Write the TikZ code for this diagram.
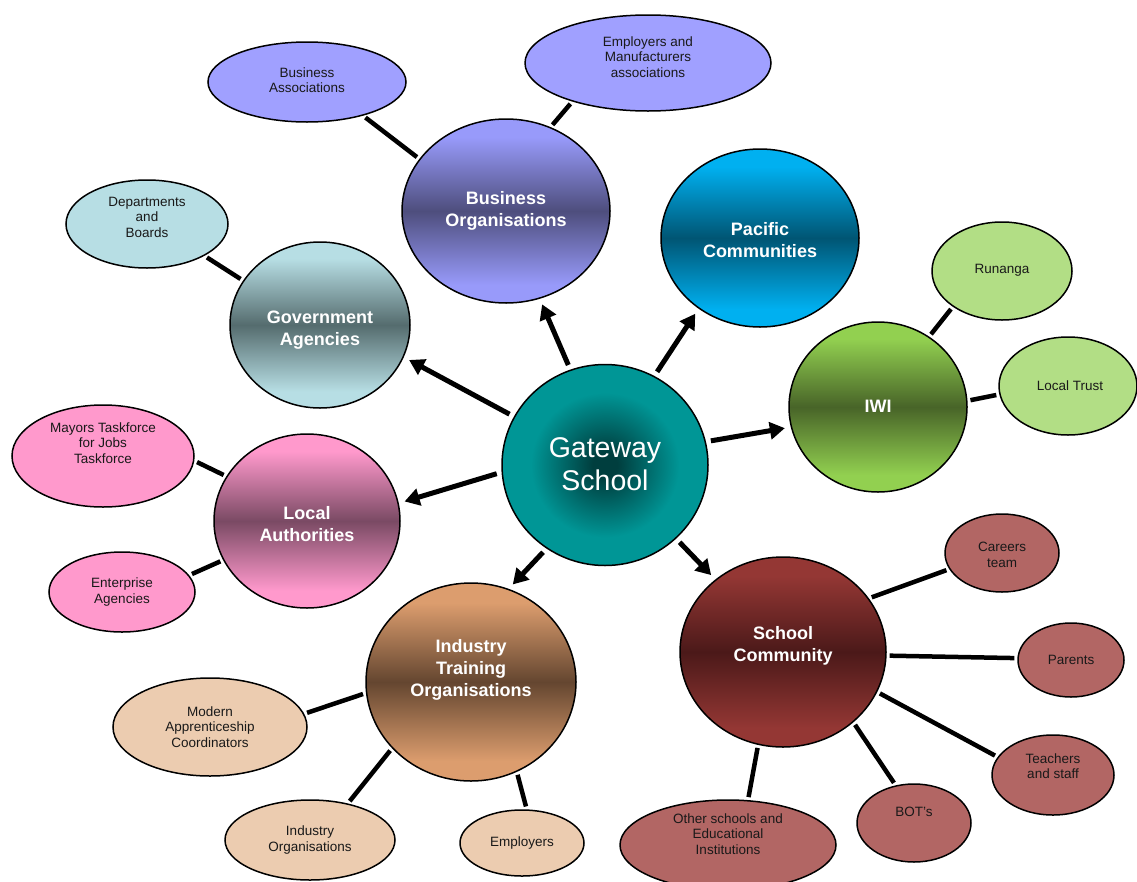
\documentclass[tikz,border=0pt]{standalone}
\usepackage{fontspec}
\setmainfont{Liberation Sans}
\usetikzlibrary{arrows.meta,shapes.geometric}

% palette
\definecolor{boL}{RGB}{152,154,250}\definecolor{boD}{RGB}{78,78,125}
\definecolor{pcL}{RGB}{0,176,240}\definecolor{pcD}{RGB}{0,85,115}
\definecolor{gaL}{RGB}{183,222,228}\definecolor{gaD}{RGB}{85,108,110}
\definecolor{iwL}{RGB}{146,208,80}\definecolor{iwD}{RGB}{72,100,40}
\definecolor{laL}{RGB}{255,153,204}\definecolor{laD}{RGB}{122,74,100}
\definecolor{itL}{RGB}{220,157,110}\definecolor{itD}{RGB}{100,70,48}
\definecolor{scL}{RGB}{148,55,52}\definecolor{scD}{RGB}{75,25,25}
\definecolor{gwL}{RGB}{0,150,150}\definecolor{gwD}{RGB}{0,62,62}
\definecolor{baFill}{RGB}{160,160,255}
\definecolor{dbFill}{RGB}{183,222,228}
\definecolor{rnFill}{RGB}{178,222,133}
\definecolor{mtFill}{RGB}{255,153,204}
\definecolor{maFill}{RGB}{236,204,176}
\definecolor{ctFill}{RGB}{178,102,100}
\definecolor{subText}{RGB}{25,25,25}

% light at top and bottom, dark band through the middle
\newcommand\bandshading[3]{%
  \pgfdeclareverticalshading{#1}{100bp}{color(0bp)=(#2); color(25bp)=(#2);
    color(30bp)=(#2); color(50bp)=(#3); color(70bp)=(#2);
    color(75bp)=(#2); color(100bp)=(#2)}}
\bandshading{boShade}{boL}{boD}
\bandshading{pcShade}{pcL}{pcD}
\bandshading{gaShade}{gaL}{gaD}
\bandshading{iwShade}{iwL}{iwD}
\bandshading{laShade}{laL}{laD}
\bandshading{itShade}{itL}{itD}
\bandshading{scShade}{scL}{scD}
\pgfdeclareradialshading{gwShade}{\pgfpoint{0bp}{0bp}}{color(0bp)=(gwD);
  color(3bp)=(gwD); color(18bp)=(gwL); color(25bp)=(gwL); color(50bp)=(gwL)}

\tikzset{
  hub/.style={ellipse, draw=black, line width=1.5pt, inner sep=0pt, shade, shading=#1},
  sub/.style={ellipse, draw=black, line width=1.5pt, inner sep=0pt, fill=#1},
  sz/.style n args={2}{minimum width=#1pt, minimum height=#2pt},
  hubtxt/.style={text=white, font=\bfseries\fontsize{18}{22}\selectfont, align=center},
  gwtxt/.style={text=white, font=\fontsize{28.5}{33}\selectfont, align=center},
  subtxt/.style={text=subText, font=\fontsize{13.5}{15.5}\selectfont, align=center},
  link/.style={line width=4.5pt, shorten <=3pt, shorten >=3pt},
  arrowlink/.style={line width=5pt, shorten <=5pt, shorten >=6pt,
    -{Triangle[length=15pt,width=17pt]}},
}

\begin{document}
\begin{tikzpicture}[x=1pt,y=-1pt]
\useasboundingbox (0,0) rectangle (1137,881);

% hub circles
\node[hub=gwShade, sz={206}{201}] (gw) at (605,465) {};
\node[hub=boShade, sz={208}{184}] (bo) at (506,211) {};
\node[hub=pcShade, sz={198}{178}] (pc) at (760,238) {};
\node[hub=gaShade, sz={180}{166}] (ga) at (320,325) {};
\node[hub=iwShade, sz={178}{170}] (iw) at (878,407) {};
\node[hub=laShade, sz={186}{174}] (la) at (307,521) {};
\node[hub=itShade, sz={210}{198}] (it) at (471,682) {};
\node[hub=scShade, sz={206}{190}] (sc) at (783,652) {};

\node[gwtxt] (gw-t) at ([yshift=1pt]gw.center) {Gateway\\School};
\node[hubtxt] (bo-t) at (bo.center) {Business\\Organisations};
\node[hubtxt] (pc-t) at ([yshift=-2pt]pc.center) {Pacific\\Communities};
\node[hubtxt] (ga-t) at ([yshift=-5pt]ga.center) {Government\\Agencies};
\node[hubtxt] (iw-t) at ([yshift=1pt]iw.center) {IWI};
\node[hubtxt] (la-t) at ([yshift=-3pt]la.center) {Local\\Authorities};
\node[hubtxt] (it-t) at ([yshift=12pt]it.center) {Industry\\Training\\Organisations};
\node[hubtxt] (sc-t) at ([yshift=6pt]sc.center) {School\\Community};

% outer ellipses
\node[sub=baFill, sz={198}{80}] (ba) at (307,82) {};
\node[sub=baFill, sz={246}{96}] (em) at (648,63) {};
\node[sub=dbFill, sz={162}{88}] (db) at (147,224) {};
\node[sub=rnFill, sz={140}{98}] (rn) at (1002,271) {};
\node[sub=rnFill, sz={138}{98}] (lt) at (1068,386) {};
\node[sub=mtFill, sz={182}{102}] (mt) at (103,456) {};
\node[sub=mtFill, sz={146}{80}] (ea) at (122,592) {};
\node[sub=maFill, sz={194}{98}] (ma) at (210,727) {};
\node[sub=maFill, sz={170}{80}] (io) at (310,840) {};
\node[sub=maFill, sz={124}{66}] (ep) at (522,843) {};
\node[sub=ctFill, sz={114}{78}] (ct) at (1002,553) {};
\node[sub=ctFill, sz={106}{74}] (pa) at (1071,660) {};
\node[sub=ctFill, sz={122}{80}] (ts) at (1053,775) {};
\node[sub=ctFill, sz={114}{78}] (bt) at (914,823) {};
\node[sub=ctFill, sz={216}{90}] (os) at (728,845) {};

\node[subtxt] (ba-t) at ([yshift=2pt]ba.center) {Business\\Associations};
\node[subtxt] (em-t) at ([yshift=6pt]em.center) {Employers and\\Manufacturers\\associations};
\node[subtxt] (db-t) at ([yshift=7pt]db.center) {Departments\\and\\Boards};
\node[subtxt] (rn-t) at ([yshift=1pt]rn.center) {Runanga};
\node[subtxt] (lt-t) at ([xshift=2pt]lt.center) {Local Trust};
\node[subtxt] (mt-t) at ([yshift=13pt]mt.center) {Mayors Taskforce\\for Jobs\\Taskforce};
\node[subtxt] (ea-t) at (ea.center) {Enterprise\\Agencies};
\node[subtxt] (ma-t) at (ma.center) {Modern\\Apprenticeship\\Coordinators};
\node[subtxt] (io-t) at (io.center) {Industry\\Organisations};
\node[subtxt] (ep-t) at (ep.center) {Employers};
\node[subtxt] (ct-t) at ([yshift=-2pt]ct.center) {Careers\\team};
\node[subtxt] (pa-t) at (pa.center) {Parents};
\node[subtxt] (ts-t) at ([yshift=9pt]ts.center) {Teachers\\and staff};
\node[subtxt] (bt-t) at ([yshift=11pt]bt.center) {BOT's};
\node[subtxt] (os-t) at ([yshift=11pt]os.center) {Other schools and\\Educational\\Institutions};

% arrows from the school to each group
\draw[arrowlink] (gw.110) -- (bo.291);
\draw[arrowlink] (gw.61) -- (pc.229);
\draw[arrowlink] (gw.152) -- (ga.339);
\draw[arrowlink] (gw.13) -- (iw.193);
\draw[arrowlink] (gw.184) -- (la.11);
\draw[arrowlink] (gw.235) -- (it.68);
\draw[arrowlink] (gw.314) -- (sc.133);

% links from each group to its members
\draw[link] (ba.329) -- (bo.149);
\draw[link] (em.207) -- (bo.62);
\draw[link] (db.331) -- (ga.150);
\draw[link] (rn.216) -- (iw.54);
\draw[link] (lt.187) -- (iw.4);
\draw[link] (mt.357) -- (la.151);
\draw[link] (ea.14) -- (la.205);
\draw[link] (ma.8) -- (it.186);
\draw[link] (io.44) -- (it.220);
\draw[link] (ep.82) -- (it.297);
\draw[link] (ct.197) -- (sc.32);
\draw[link] (pa.178) -- (sc.358);
\draw[link] (ts.162) -- (sc.337);
\draw[link] (bt.116) -- (sc.315);
\draw[link] (os.66) -- (sc.255);
\end{tikzpicture}
\end{document}
